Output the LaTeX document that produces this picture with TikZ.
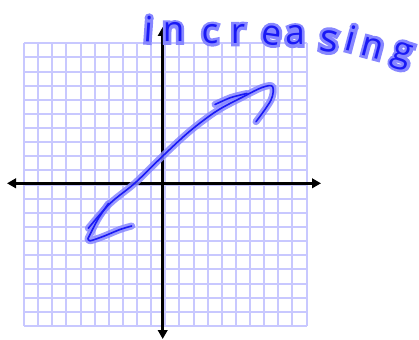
\documentclass[tikz,border=0pt]{standalone}
\usepackage{fontspec}
\newfontfamily\handfont{Open Sans}
\newfontfamily\handglow[FakeBold=16]{Open Sans}
\usetikzlibrary{arrows.meta}
\definecolor{gridc}{RGB}{200,200,255}
\definecolor{inkc}{RGB}{25,25,245}
\definecolor{glowc}{RGB}{135,135,255}
\newcommand{\hw}[1]{\rlap{\handglow\color{glowc}#1}{\handfont\color{inkc}#1}}
\begin{document}
\begin{tikzpicture}[x=1pt,y=-1pt,
  gridline/.style={draw=gridc,line width=2pt},
  axis/.style={draw=black,line width=2.9pt,-{Triangle[length=9pt,width=9.5pt]}},
  glowline/.style={draw=glowc,line width=7pt,line cap=round,line join=round,opacity=0.85},
  inkline/.style={draw=inkc,line width=1.6pt,line cap=round,line join=round},
  letter/.style={inner sep=0pt,anchor=base,font=\fontsize{35}{35}\selectfont}]
\useasboundingbox (0,0) rectangle (419,339);
% grid
\foreach \i in {0,...,20}{
  \draw[gridline] ({24+\i*14.13},43.3) -- ({24+\i*14.13},325.9);
  \draw[gridline] (24,{43.3+\i*14.13}) -- (306.6,{43.3+\i*14.13});
}
% axes
\coordinate (o) at (162.7,183.3);
\coordinate (xl) at (7,183.3);
\coordinate (xr) at (321,183.3);
\coordinate (yt) at (162.7,27);
\coordinate (yb) at (162.7,339);
\draw[axis] (o) -- (xr);
\draw[axis] (o) -- (xl);
\draw[axis] (o) -- (yt);
\draw[axis] (o) -- (yb);
% curve
\def\maincurve{plot[smooth,tension=0.55] coordinates {(88.3,228.3) (110,203.5) (135,183) (163.3,155.5) (190,131) (216.7,111) (243.3,96.7) (262,87.5) (272.5,86.5) (271,100) (256,121.7)}}
\def\lowstroke{plot[smooth,tension=0.4] coordinates {(108.5,203.5) (98,219) (88,238.5)} -- plot[smooth,tension=0.5] coordinates {(88,238.5) (90,240.8) (103,236.5) (120,229.5) (131.7,226)}}
\def\upstroke{plot[smooth,tension=0.5] coordinates {(215,104.5) (231,97.5) (247,93.5)}}
\draw[glowline] \maincurve;
\draw[glowline] \lowstroke;
\draw[glowline] \upstroke;
\draw[inkline] \maincurve;
\draw[inkline] \lowstroke;
\draw[inkline] \upstroke;
% label
\node[letter,rotate=-4] (t1) at (147.5,42) {\hw{i}};
\node[letter] (t2) at (173.5,42) {\hw{n}};
\node[letter] (t3) at (210,43.5) {\hw{c}};
\node[letter] (t4) at (238,43.5) {\hw{r}};
\node[letter,rotate=-8] (t5) at (270,44.5) {\hw{e}};
\node[letter] (t6) at (295,45) {\hw{a}};
\node[letter,rotate=-8,font=\fontsize{39}{39}\selectfont] (t7) at (327.5,51.5) {\hw{s}};
\node[letter,rotate=-15] (t8) at (348,50.5) {\hw{i}};
\node[letter,rotate=-15] (t9) at (370,57) {\hw{n}};
\node[letter,rotate=-18] (t10) at (400,61) {\hw{g}};
\end{tikzpicture}
\end{document}
